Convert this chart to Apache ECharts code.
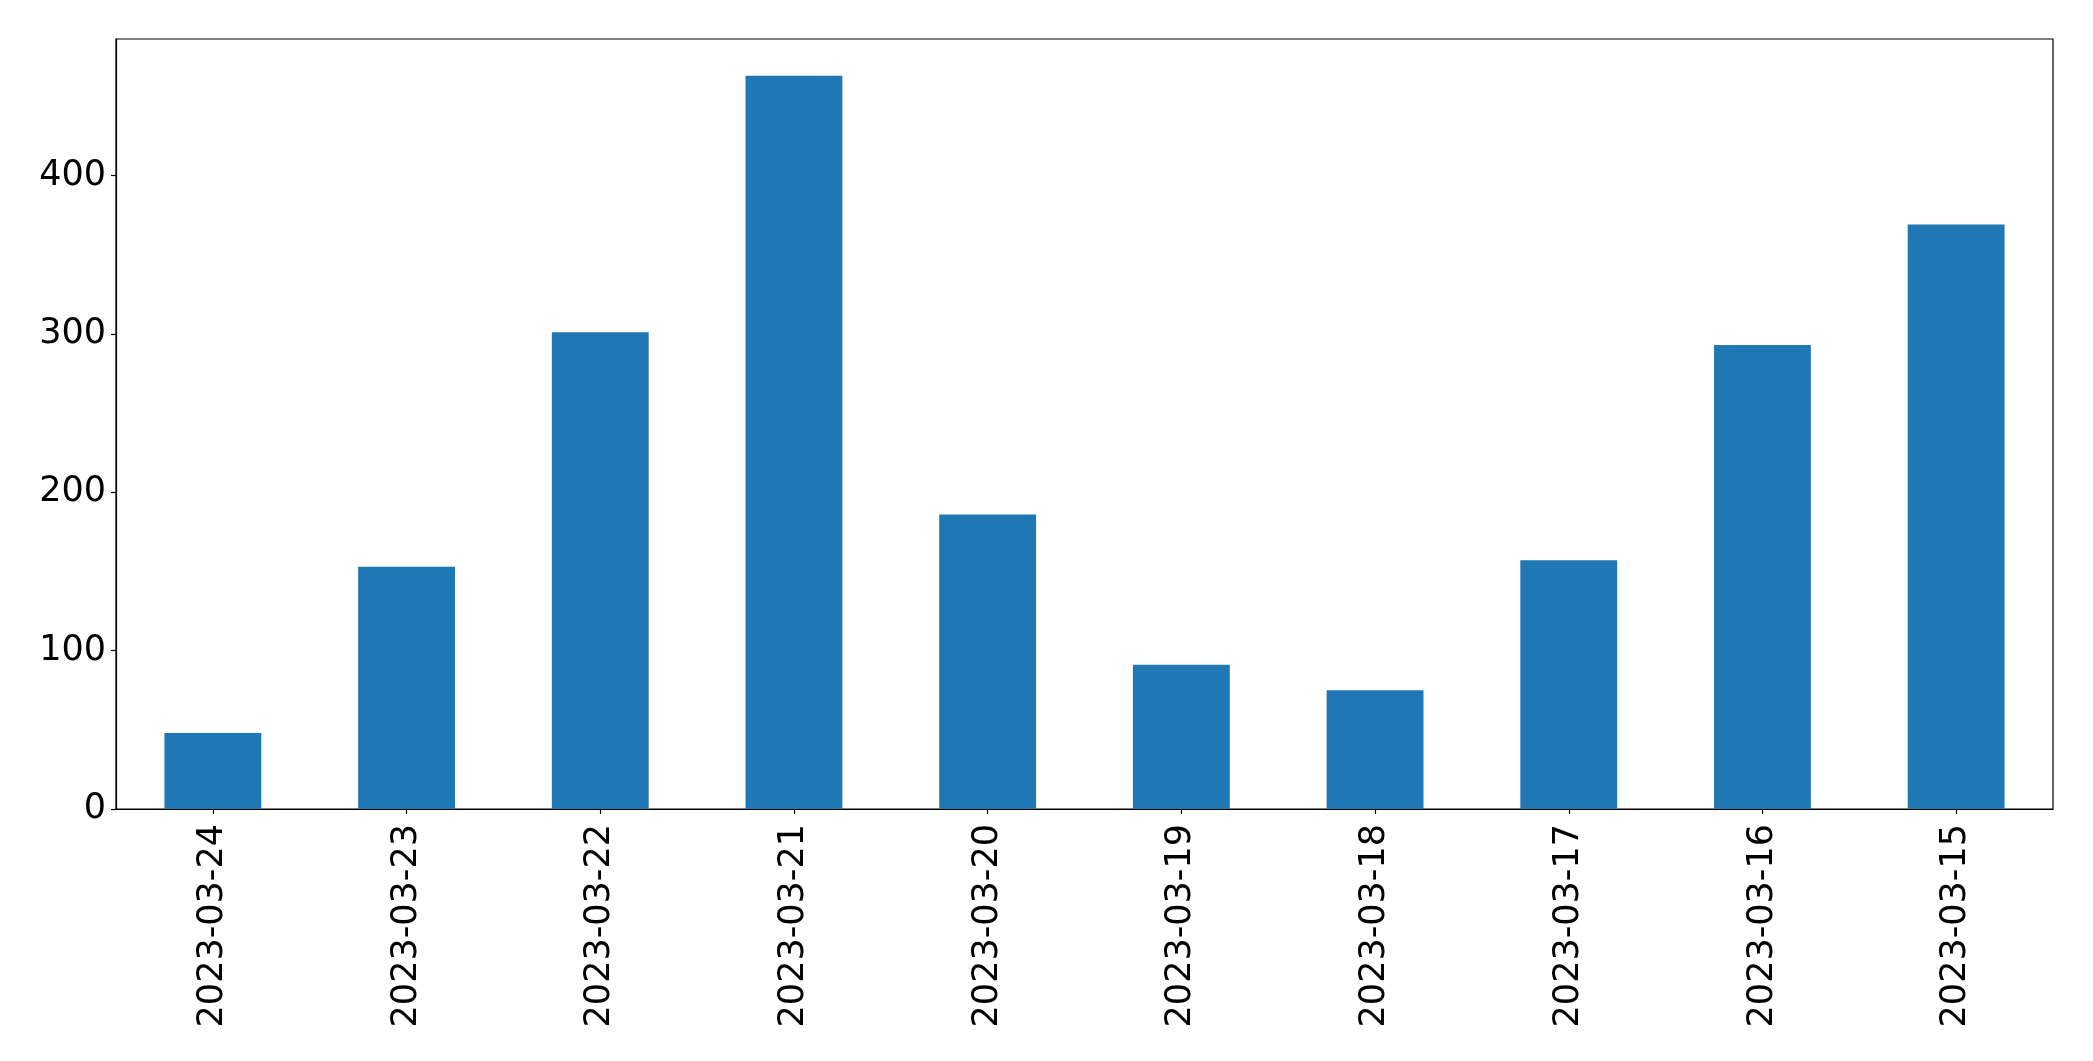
<!DOCTYPE html>
<html>
<head>
<meta charset="utf-8">
<script src="https://cdn.jsdelivr.net/npm/echarts@6/dist/echarts.min.js"></script>
<style>
html,body{margin:0;padding:0;background:#fff;}
#chart{width:2093px;height:1061px;}
</style>
</head>
<body>
<div id="chart"></div>
<script>
const categories = ['2023-03-24','2023-03-23','2023-03-22','2023-03-21','2023-03-20','2023-03-19','2023-03-18','2023-03-17','2023-03-16','2023-03-15'];
const values = [48, 153, 301, 463, 186, 91, 75, 157, 293, 369];
const yTicks = [0, 100, 200, 300, 400];

const chart = echarts.init(document.getElementById('chart'));
const font = 'DejaVu Sans';
chart.setOption({
  animation: false,
  backgroundColor: '#ffffff',
  grid: {
    left: 116, right: 40, top: 39, bottom: 252,
    show: true, borderColor: '#000', borderWidth: 1.2, backgroundColor: 'transparent'
  },
  xAxis: {
    type: 'category',
    data: categories,
    boundaryGap: true,
    axisLine: { show: true, lineStyle: { color: '#000', width: 1.2 } },
    axisTick: { show: true, alignWithLabel: true, length: 5, lineStyle: { color: '#000', width: 1.2 } },
    axisLabel: { rotate: 90, margin: 15, fontSize: 35, fontFamily: font, color: '#000', interval: 0 },
    splitLine: { show: false }
  },
  yAxis: {
    type: 'value',
    min: 0,
    max: Math.max(...values) * 1.05,
    interval: 100,
    axisLine: { show: true, lineStyle: { color: '#000', width: 1.2 } },
    axisTick: { show: true, length: 5, lineStyle: { color: '#000', width: 1.2 } },
    axisLabel: {
      margin: 10, fontSize: 35, fontFamily: font, color: '#000',
      showMaxLabel: false,
      formatter: v => (yTicks.includes(v) ? String(v) : '')
    },
    splitLine: { show: false }
  },
  series: [{
    type: 'bar',
    data: values,
    barWidth: '50%',
    itemStyle: { color: '#1f77b4' }
  }]
});
</script>
</body>
</html>
